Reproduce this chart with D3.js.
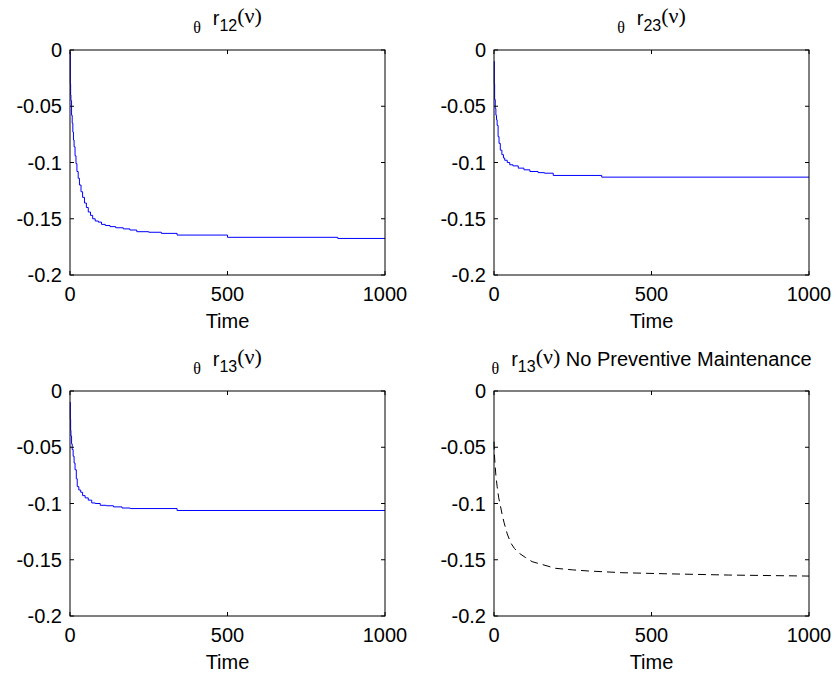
<!DOCTYPE html>
<html>
<head>
<meta charset="utf-8">
<script src="https://d3js.org/d3.v7.min.js"></script>
<style>
    body { margin: 0; padding: 0; background: #fff; }
    .tick-label { font-family: "Liberation Sans", Arial, sans-serif; font-size: 20px; fill: #000; }
    .axis-title { font-family: "Liberation Sans", Arial, sans-serif; font-size: 20px; fill: #000; }
    .frame { fill: none; stroke: #000; stroke-width: 1; }
</style>
</head>
<body>
<div id="chart"></div>
<script>
    // x ticks and y ticks shared by all panels
    const xTicks = [0, 500, 1000];
    const yTicks = [0, -0.05, -0.1, -0.15, -0.2];
    const yTickLabels = ["0", "-0.05", "-0.1", "-0.15", "-0.2"];

    // theta r12(nu)
    const r12Time = [0, 1, 2, 3, 5, 7, 9, 11, 13, 16, 19, 22, 26, 30, 35, 40, 46, 52, 58, 65, 72, 80, 90, 100, 112, 127, 145, 169, 190, 212, 250, 290, 340, 500, 850, 1000];
    const r12Value = [-0.002, -0.03, -0.04, -0.045, -0.058, -0.065, -0.073, -0.08, -0.086, -0.094, -0.101, -0.108, -0.114, -0.12, -0.126, -0.131, -0.136, -0.14, -0.144, -0.147, -0.15, -0.152, -0.153, -0.155, -0.156, -0.157, -0.158, -0.159, -0.16, -0.1615, -0.162, -0.163, -0.1645, -0.1665, -0.1675, -0.1675];

    // theta r23(nu)
    const r23Time = [0, 1, 2, 4, 6, 8, 10, 13, 16, 20, 25, 30, 34, 42, 50, 60, 77, 95, 114, 140, 160, 188, 342, 1000];
    const r23Value = [-0.01, -0.03, -0.044, -0.052, -0.058, -0.062, -0.067, -0.077, -0.083, -0.089, -0.093, -0.096, -0.098, -0.1, -0.102, -0.103, -0.105, -0.1065, -0.108, -0.109, -0.1095, -0.1115, -0.113, -0.113];

    // theta r13(nu)
    const r13Time = [0, 1, 2, 3, 5, 7, 10, 13, 16, 20, 23, 28, 34, 40, 48, 58, 69, 80, 96, 115, 138, 165, 191, 340, 1000];
    const r13Value = [-0.01, -0.025, -0.035, -0.04, -0.047, -0.052, -0.058, -0.064, -0.07, -0.078, -0.085, -0.088, -0.09, -0.093, -0.095, -0.097, -0.0995, -0.1, -0.1016, -0.102, -0.103, -0.104, -0.1045, -0.1062, -0.1062];

    // theta r13(nu), no preventive maintenance
    const r13NpmTime = [0, 1, 3, 6, 10, 15, 21, 26, 32, 42, 53, 65, 79, 100, 121, 150, 195, 250, 301, 406, 550, 745, 1000];
    const r13NpmValue = [-0.045, -0.055, -0.064, -0.075, -0.085, -0.095, -0.103, -0.11, -0.117, -0.127, -0.135, -0.14, -0.144, -0.148, -0.1517, -0.154, -0.1576, -0.159, -0.16, -0.1615, -0.1625, -0.1636, -0.1645];

    const width = 837, height = 680;
    const svg = d3.select("#chart").append("svg")
        .attr("width", width)
        .attr("height", height)
        .style("background", "#fff");

    const panels = [
        { left: 70, top: 50, sub: "12", extra: "", time: r12Time, value: r12Value, color: "#0000ff", dash: null, step: true },
        { left: 494, top: 50, sub: "23", extra: "", time: r23Time, value: r23Value, color: "#0000ff", dash: null, step: true },
        { left: 70, top: 391, sub: "13", extra: "", time: r13Time, value: r13Value, color: "#0000ff", dash: null, step: true },
        { left: 494, top: 391, sub: "13", extra: " No Preventive Maintenance", time: r13NpmTime, value: r13NpmValue, color: "#000", dash: "8,5", step: false }
    ];
    const pw = 315, ph = 225;

    panels.forEach(p => {
        const g = svg.append("g").attr("transform", `translate(${p.left},${p.top})`);
        const x = d3.scaleLinear().domain([0, 1000]).range([0, pw]);
        const y = d3.scaleLinear().domain([-0.2, 0]).range([ph, 0]);

        const data = p.time.map((t, i) => ({ t: t, v: p.value[i] }));
        const line = d3.line()
            .x(d => x(d.t))
            .y(d => y(d.v))
            .curve(p.step ? d3.curveStepAfter : d3.curveLinear);

        g.append("path")
            .datum(data)
            .attr("d", line)
            .attr("fill", "none")
            .attr("stroke", p.color)
            .attr("stroke-width", 1)
            .attr("stroke-dasharray", p.dash);

        // inward ticks on all four sides
        const tl = 4;
        const tg = g.append("g").attr("stroke", "#000").attr("stroke-width", 1);
        xTicks.forEach(t => {
            tg.append("line").attr("x1", x(t)).attr("x2", x(t)).attr("y1", ph).attr("y2", ph - tl);
            tg.append("line").attr("x1", x(t)).attr("x2", x(t)).attr("y1", 0).attr("y2", tl);
        });
        yTicks.forEach(t => {
            tg.append("line").attr("x1", 0).attr("x2", tl).attr("y1", y(t)).attr("y2", y(t));
            tg.append("line").attr("x1", pw).attr("x2", pw - tl).attr("y1", y(t)).attr("y2", y(t));
        });

        g.append("rect").attr("class", "frame")
            .attr("x", 0).attr("y", 0).attr("width", pw).attr("height", ph);

        g.selectAll(".xl").data(xTicks).enter().append("text")
            .attr("class", "tick-label")
            .attr("x", d => x(d)).attr("y", ph + 26)
            .attr("text-anchor", "middle")
            .text(d => d);

        g.selectAll(".yl").data(yTicks).enter().append("text")
            .attr("class", "tick-label")
            .attr("x", -8).attr("y", d => y(d))
            .attr("dy", "0.36em")
            .attr("text-anchor", "end")
            .text((d, i) => yTickLabels[i]);

        g.append("text").attr("class", "axis-title")
            .attr("x", pw / 2).attr("y", ph + 53)
            .attr("text-anchor", "middle")
            .text("Time");

        // title: _θ r_{xx}(ν)
        const title = g.append("text")
            .attr("x", pw / 2).attr("y", -25)
            .attr("text-anchor", "middle")
            .attr("font-family", "'Liberation Sans', Arial, sans-serif")
            .attr("font-size", 20);
        title.append("tspan").attr("font-family", "'Liberation Serif', serif").attr("font-size", 16)
            .attr("dy", 8).text("θ");
        title.append("tspan").attr("dx", 12).attr("dy", -8).text("r");
        title.append("tspan").attr("font-size", 16).attr("dy", 6).text(p.sub);
        title.append("tspan").attr("font-family", "'Liberation Serif', serif").attr("font-size", 22)
            .attr("dy", -8).text("(ν)");
        if (p.extra) {
            title.append("tspan").attr("dy", 2).style("white-space", "pre").text(p.extra);
        }
    });
</script>
</body>
</html>
